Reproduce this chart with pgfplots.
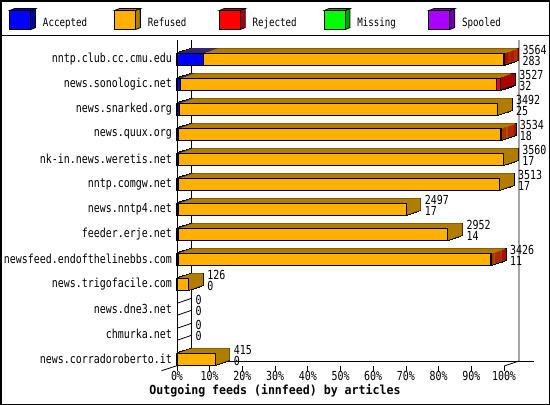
\documentclass[border=0pt]{standalone}
\usepackage{fontspec}
\usepackage{pgfplots}
\usepackage{pgfplotstable}
\pgfplotsset{compat=1.18}
\setmainfont{DejaVu Sans Mono}[FakeStretch=0.8]
\newfontfamily\titlefont{DejaVu Sans Mono}[FakeStretch=0.93]

\definecolor{accF}{RGB}{0,0,255}
\definecolor{accD}{RGB}{0,0,168}
\definecolor{refF}{RGB}{255,176,0}
\definecolor{refD}{RGB}{176,125,0}
\definecolor{rejF}{RGB}{255,0,0}
\definecolor{rejD}{RGB}{170,0,0}
\definecolor{misF}{RGB}{0,255,0}
\definecolor{misD}{RGB}{0,160,0}
\definecolor{spoF}{RGB}{170,0,255}
\definecolor{spoD}{RGB}{110,0,170}

% articles per outgoing feed; pos = row from the bottom
\pgfplotstableread[col sep=comma,row sep=\\]{
pos,name,offered,accepted,refused,rejected\\
12,nntp.club.cc.cmu.edu,3564,283,3271,10\\
11,news.sonologic.net,3527,32,3450,45\\
10,news.snarked.org,3492,25,3467,0\\
9,news.quux.org,3534,18,3508,8\\
8,nk-in.news.weretis.net,3560,17,3543,0\\
7,nntp.comgw.net,3513,17,3496,0\\
6,news.nntp4.net,2497,17,2480,0\\
5,feeder.erje.net,2952,14,2938,0\\
4,newsfeed.endofthelinebbs.com,3426,11,3407,8\\
3,news.trigofacile.com,126,0,126,0\\
2,news.dne3.net,0,0,0,0\\
1,chmurka.net,0,0,0,0\\
0,news.corradoroberto.it,415,0,415,0\\
}\feeds

% bar ends in percent of the largest feed
\newcommand\xA{\thisrow{accepted}*100/3564}
\newcommand\xB{(\thisrow{accepted}+\thisrow{refused})*100/3564}
\newcommand\xC{(\thisrow{accepted}+\thisrow{refused}+\thisrow{rejected})*100/3564}
% the red part only where something was rejected
\newcommand\xR{\thisrow{rejected}>0 ? \xC : 0}
\newcommand\lblfont{\fontsize{12.5}{11}\selectfont}
\newcommand\num[1]{\pgfmathprintnumber[fixed,precision=0,1000 sep={},assume math mode=true]{#1}}

\pgfplotsset{
  bar3d/.style={xbar, bar shift=0pt, bar width=12bp, forget plot},
  nozero/.style={x filter/.expression={x<=0 ? nan : x}},
  depth/.style={xshift=#1*1.04bp, yshift=#1*0.357bp},
  cube/.style 2 args={legend image code/.code={
    \draw[line width=0.8bp, fill=#2] (0bp,19bp) -- (5bp,21bp) -- (26bp,21bp) -- (21bp,19bp) -- cycle;
    \draw[line width=0.8bp, fill=#2] (21bp,0bp) -- (26bp,2bp) -- (26bp,21bp) -- (21bp,19bp) -- cycle;
    \draw[line width=0.8bp, fill=#1] (0bp,0bp) rectangle (21bp,19bp);
  }},
}

\begin{document}
\begin{tikzpicture}
\useasboundingbox (0,0) rectangle (550bp,-405bp);
\draw[line width=1.5bp] (0.75bp,-0.75bp) rectangle (549.25bp,-404.25bp);
\draw[line width=1.5bp] (0,-35.5bp) -- (550bp,-35.5bp);

\begin{axis}[
  at={(177bp,-366bp)}, anchor=south west,
  scale only axis, width=327bp, height=326bp,
  xmin=0, xmax=100, ymin=-0.268, ymax=12.772,
  clip=false,
  axis x line*=bottom, axis y line*=left,
  x axis line style={draw=none},
  y axis line style={line width=0.8bp},
  xtick={0,10,...,100},
  xticklabels={0\%,10\%,20\%,30\%,40\%,50\%,60\%,70\%,80\%,90\%,100\%},
  ytick={0,...,12},
  yticklabels={news.corradoroberto.it,chmurka.net,news.dne3.net,news.trigofacile.com,newsfeed.endofthelinebbs.com,feeder.erje.net,news.nntp4.net,nntp.comgw.net,nk-in.news.weretis.net,news.quux.org,news.snarked.org,news.sonologic.net,nntp.club.cc.cmu.edu},
  tick align=outside,
  major tick length=5bp,
  x tick style={line width=0.8bp, black},
  y tick style={draw=none},
  xticklabel style={font=\lblfont, inner sep=0pt},
  yticklabel style={font=\lblfont, inner sep=0pt, anchor=east, xshift=0bp},
  xlabel={Outgoing feeds (innfeed) by articles},
  xlabel style={at={(0.2997,0)}, anchor=center, yshift=-25bp,
    font=\titlefont\bfseries\fontsize{12.5}{14}\selectfont},
  legend columns=5,
  legend cell align=left,
  legend style={at={(-0.5138,1.0982)}, anchor=north west, draw=none, fill=none,
    inner sep=0pt, font=\fontsize{11.5}{13}\selectfont, nodes={inner sep=0pt},
    /tikz/every odd column/.append style={column sep=7bp},
    /tikz/every even column/.append style={column sep=0pt}},
]
\addlegendimage{cube={accF}{accD}}\addlegendentry{\raisebox{13.5bp}{\makebox[71bp][l]{Accepted}}}
\addlegendimage{cube={refF}{refD}}\addlegendentry{\raisebox{13.5bp}{\makebox[71bp][l]{Refused}}}
\addlegendimage{cube={rejF}{rejD}}\addlegendentry{\raisebox{13.5bp}{\makebox[71bp][l]{Rejected}}}
\addlegendimage{cube={misF}{misD}}\addlegendentry{\raisebox{13.5bp}{\makebox[71bp][l]{Missing}}}
\addlegendimage{cube={spoF}{spoD}}\addlegendentry{\raisebox{13.5bp}{Spooled}}

% floor and back walls
\draw[line width=0.8bp] ([xshift=-15.5bp,yshift=-4.7bp]axis description cs:0,0)
  -- ([xshift=14.5bp,yshift=5bp]axis description cs:0,0)
  -- ([xshift=14.5bp]axis description cs:0,1);
\draw[line width=0.8bp] ([xshift=14.5bp,yshift=5bp]axis description cs:0,0)
  -- ([xshift=30bp,yshift=5bp]axis description cs:1,0);
\draw[line width=0.8bp] (axis description cs:1,0)
  -- ([xshift=15bp,yshift=5bp]axis description cs:1,0)
  -- ([xshift=15bp]axis description cs:1,1);

% empty feeds: only the top and bottom edges of a flat bar
\addplot[forget plot, draw=black, line width=0.8bp, quiver={u=4.434, v=0.2},
  quiver/every arrow/.append style={-}, restrict x to domain=-1:1]
  table[x expr=\thisrow{offered}*100/3564, y expr=\thisrow{pos}+0.24]{\feeds};
\addplot[forget plot, draw=black, line width=0.8bp, quiver={u=4.434, v=0.2},
  quiver/every arrow/.append style={-}, restrict x to domain=-1:1]
  table[x expr=\thisrow{offered}*100/3564, y expr=\thisrow{pos}-0.24]{\feeds};

% outline of the extruded bars
\pgfplotsinvokeforeach{14,13,...,0}{
  \addplot[bar3d, nozero, depth=#1, fill=black, draw=black, line width=1.6bp]
    table[x expr=\xC, y=pos]{\feeds};
}
% top and side faces (red a little narrower so it does not bleed through)
\pgfplotsinvokeforeach{14,13,...,1}{
  \addplot[bar3d, nozero, depth=#1, bar width=10.8bp, fill=rejD, draw=none] table[x expr=\xR, y=pos]{\feeds};
  \addplot[bar3d, nozero, depth=#1, fill=refD, draw=none] table[x expr=\xB, y=pos]{\feeds};
  \addplot[bar3d, nozero, depth=#1, fill=accD, draw=none] table[x expr=\xA, y=pos]{\feeds};
}
% front faces
\addplot[bar3d, nozero, fill=rejF, draw=black, line width=0.8bp] table[x expr=\xR, y=pos]{\feeds};
\addplot[bar3d, nozero, fill=refF, draw=black, line width=0.8bp] table[x expr=\xB, y=pos]{\feeds};
\addplot[bar3d, nozero, fill=accF, draw=black, line width=0.8bp] table[x expr=\xA, y=pos]{\feeds};
% offered / accepted written beside each bar
\addplot[bar3d, draw=none, fill=none,
  visualization depends on={\thisrow{offered}\as\offv},
  visualization depends on={\thisrow{accepted}\as\accv},
  nodes near coords={\num{\offv}\\\num{\accv}},
  every node near coord/.append style={anchor=west, align=left, inner sep=0pt,
    xshift=18.5bp, yshift=4bp, font=\lblfont, text=black}]
  table[x expr=\xC, y=pos]{\feeds};
\end{axis}
\end{tikzpicture}
\end{document}
